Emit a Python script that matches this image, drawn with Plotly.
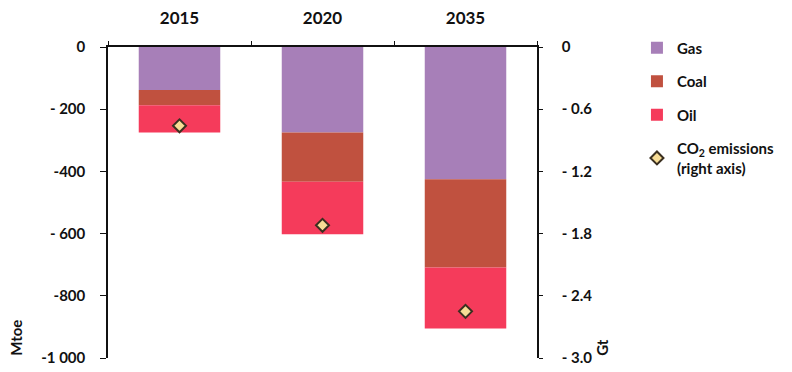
import plotly.graph_objects as go

# Change in fossil-fuel demand (Mtoe) and CO2 emissions (Gt)
years = ["2015", "2020", "2035"]
gas = [-138, -275, -425]
coal = [-49, -158, -284]
oil = [-88, -169, -196]
co2 = [-0.76, -1.72, -2.55]

left_ticks = [0, -200, -400, -600, -800, -1000]
left_labels = ["0", "- 200", "-400", "- 600", "-800", "-1 000"]
right_ticks = [0, -0.6, -1.2, -1.8, -2.4, -3.0]
right_labels = ["0", "- 0.6", "- 1.2", "- 1.8", "- 2.4", "- 3.0"]

FONT = "Lato"
TXT = "#111111"

fig = go.Figure()
fig.add_trace(go.Bar(x=years, y=gas, name="Gas", marker_color="#a77fb8",
                     marker_line_width=0, legendgroup="g1"))
fig.add_trace(go.Bar(x=years, y=coal, name="Coal", marker_color="#c0513f",
                     marker_line_width=0, legendgroup="g2"))
fig.add_trace(go.Bar(x=years, y=oil, name="Oil", marker_color="#f53b5b",
                     marker_line_width=0, legendgroup="g3"))
fig.add_trace(go.Scatter(x=years, y=co2, yaxis="y2", mode="markers",
                         name="CO<sub>2</sub> emissions<br>(right axis)",
                         marker=dict(symbol="diamond", size=10, color="#f7dc95",
                                     line=dict(color="#3b3020", width=2)),
                         legendgroup="g4"))

fig.update_layout(
    width=792, height=372,
    margin=dict(l=108, r=255, t=47, b=14, autoexpand=False),
    paper_bgcolor="white", plot_bgcolor="white",
    barmode="relative", bargap=0.43,
    font=dict(family=FONT, color=TXT, size=14),
    showlegend=True,
    legend=dict(x=1.233, y=1.05, xanchor="left", yanchor="top",
                traceorder="grouped", tracegroupgap=11,
                font=dict(family=FONT, size=15, color=TXT, weight="bold"),
                itemwidth=30, bgcolor="rgba(0,0,0,0)"),
    xaxis=dict(side="top", type="category", showline=True, linecolor="#111",
               linewidth=1.5, ticks="outside", tickson="boundaries",
               ticklen=4, tickcolor="#111", showgrid=False, automargin=False,
               tickfont=dict(family=FONT, size=17, weight="bold", color=TXT),
               ticklabelstandoff=14),
    yaxis=dict(range=[-1000, 0], tickvals=left_ticks, ticktext=left_labels,
               showline=True, linecolor="#111", linewidth=1.5, ticks="outside",
               ticklen=6, tickcolor="#111", showgrid=False, zeroline=False,
               automargin=False,
               tickfont=dict(family=FONT, size=15, weight="bold", color=TXT),
               ticklabelstandoff=12),
    yaxis2=dict(range=[-3.0, 0], overlaying="y", side="right",
                tickvals=right_ticks, ticktext=right_labels,
                showline=True, linecolor="#111", linewidth=1.5, ticks="outside",
                ticklen=4, tickcolor="#111", showgrid=False, zeroline=False,
                automargin=False,
                tickfont=dict(family=FONT, size=15, weight="bold", color=TXT),
                ticklabelstandoff=16),
    annotations=[
        dict(text="<b>Mtoe</b>", textangle=-90, xref="paper", yref="paper",
             x=-0.215, y=0.0, xanchor="center", yanchor="bottom",
             showarrow=False, font=dict(family=FONT, size=15, color=TXT)),
        dict(text="<b>Gt</b>", textangle=-90, xref="paper", yref="paper",
             x=1.15, y=0.0, xanchor="center", yanchor="bottom",
             showarrow=False, font=dict(family=FONT, size=15, color=TXT)),
    ],
)

fig.write_html("out.html")
